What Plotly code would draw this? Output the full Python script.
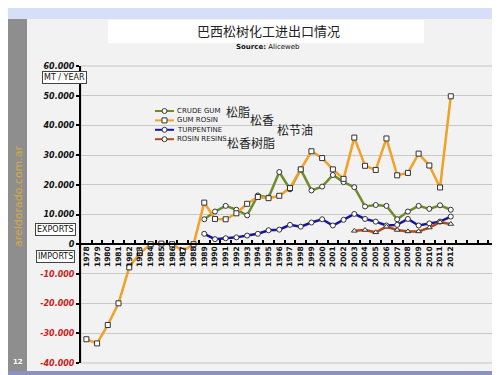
import plotly.graph_objects as go

years = list(range(1978, 2013))
axis_years = list(range(1978, 2017))
gum_rosin = [-32000, -33400, -27200, -19900, -7800, -3000, 0, 200, 0, -2200, 0,
             14000, 8500, 8400, 10400, 13600, 15900, 15500, 16300, 18900, 25200,
             31300, 29000, 25200, 22000, 35900, 26400, 25000, 35600, 23200, 24000,
             30500, 26500, 19100, 49800]
crude_gum = [None] * 11 + [8400, 11000, 12900, 11600, 9700, 16400, 15700, 24300,
                           18500, 25200, 18100, 19400, 23300, 20900, 19200, 12700,
                           13200, 12900, 8400, 11000, 12900, 11900, 13100, 11600]
turpentine = [None] * 11 + [3500, 1700, 2000, 2300, 2900, 3500, 4700, 4900, 6500,
                            5900, 7300, 8400, 6300, 8200, 10200, 8500, 7600, 6300,
                            6500, 8500, 6300, 7000, 7600, 9300]
rosin_resins = [None] * 25 + [4500, 4800, 4000, 5900, 4800, 4300, 4300, 5600, 7400, 6800]

y_ticks = [60000, 50000, 40000, 30000, 20000, 10000, 0, -10000, -20000, -30000, -40000]
y_labels = ["60.000", "50.000", "40.000", "30.000", "20.000", "10.000", "0",
            "-10.000", "-20.000", "-30.000", "-40.000"]

series_names = ["CRUDE GUM", "GUM ROSIN", "TURPENTINE", "ROSIN RESINS"]
chinese_names = ["松脂", "松香", "松节油", "松香树脂"]
colors = {"CRUDE GUM": "#6f8c2c", "GUM ROSIN": "#f2a027",
          "TURPENTINE": "#1414a8", "ROSIN RESINS": "#b24a1a"}
symbols = {"CRUDE GUM": "circle", "GUM ROSIN": "square",
           "TURPENTINE": "circle", "ROSIN RESINS": "triangle-up"}
data = {"CRUDE GUM": crude_gum, "GUM ROSIN": gum_rosin,
        "TURPENTINE": turpentine, "ROSIN RESINS": rosin_resins}

W, H = 500, 375
L, R, T, B = 73, 9, 58, 20
PW, PH = W - L - R, H - T - B


def px(x):
    return (x - L) / PW


def py(y):
    return (H - B - y) / PH


fig = go.Figure()
for name in ["CRUDE GUM", "TURPENTINE", "ROSIN RESINS", "GUM ROSIN"]:
    fig.add_trace(go.Scatter(
        x=years, y=data[name], mode="lines+markers", name=name,
        line=dict(color=colors[name], width=2.5),
        marker=dict(symbol=symbols[name], size=5, color="white",
                    line=dict(color="#333333", width=1)),
        connectgaps=False, showlegend=False))

shapes = []
# background bands
shapes.append(dict(type="rect", xref="paper", yref="paper", x0=px(0), x1=px(500),
                   y0=py(11), y1=py(0), fillcolor="#d6def8", line_width=0, layer="below"))
shapes.append(dict(type="rect", xref="paper", yref="paper", x0=px(0), x1=px(19),
                   y0=py(363), y1=py(11), fillcolor="#8e8e8e", line_width=0, layer="below"))
shapes.append(dict(type="rect", xref="paper", yref="paper", x0=px(0), x1=px(500),
                   y0=py(375), y1=py(363), fillcolor="#8a92c2", line_width=0, layer="below"))
shapes.append(dict(type="rect", xref="paper", yref="paper", x0=px(100), x1=px(416),
                   y0=py(35), y1=py(12), fillcolor="white", line_width=0, layer="below"))
# plot border
shapes.append(dict(type="rect", xref="paper", yref="paper", x0=0, x1=1, y0=0, y1=1,
                   line=dict(color="#c4c4c4", width=1), layer="below"))

annotations = []
# manual legend
for i, name in enumerate(series_names):
    yc = 103 + 9.4 * i
    shapes.append(dict(type="line", xref="paper", yref="paper", x0=px(147), x1=px(166),
                       y0=py(yc), y1=py(yc), line=dict(color=colors[name], width=2)))
    if symbols[name] == "square":
        shapes.append(dict(type="rect", xref="paper", yref="paper", x0=px(154), x1=px(159),
                           y0=py(yc + 2.5), y1=py(yc - 2.5), fillcolor="white",
                           line=dict(color="#333333", width=1)))
    else:
        shapes.append(dict(type="circle", xref="paper", yref="paper", x0=px(154), x1=px(159),
                           y0=py(yc + 2.5), y1=py(yc - 2.5), fillcolor="white",
                           line=dict(color="#333333", width=1)))
    annotations.append(dict(xref="paper", yref="paper", x=px(167), y=py(yc),
                            xanchor="left", yanchor="middle", showarrow=False,
                            text=name, font=dict(family="DejaVu Sans", size=7, color="#222222")))

cn_pos = [(230, 103), (254, 112), (287, 121), (243, 134)]
for txt, (cx, cy) in zip(chinese_names, cn_pos):
    annotations.append(dict(xref="paper", yref="paper", x=px(cx), y=py(cy),
                            xanchor="center", yanchor="middle", showarrow=False,
                            text=txt, font=dict(family="Noto Sans CJK SC", size=12, color="#222222")))

annotations += [
    dict(xref="paper", yref="paper", x=px(260), y=py(23), showarrow=False,
         xanchor="center", yanchor="middle", text="巴西松树化工进出口情况",
         font=dict(family="Noto Sans CJK SC", size=13, color="#222222")),
    dict(xref="paper", yref="paper", x=px(260), y=py(39), showarrow=False,
         xanchor="center", yanchor="middle", text="<b>Source:</b> Aliceweb",
         font=dict(family="DejaVu Sans", size=7, color="#111111")),
    dict(xref="paper", yref="paper", x=px(56), y=py(69), showarrow=False,
         xanchor="center", yanchor="middle", text="MT / YEAR",
         font=dict(family="DejaVu Sans", size=8, color="#111111"),
         bgcolor="white", bordercolor="#444444", borderwidth=1, borderpad=1),
    dict(xref="paper", yref="paper", x=px(47), y=py(221), showarrow=False,
         xanchor="center", yanchor="middle", text="EXPORTS",
         font=dict(family="DejaVu Sans", size=8, color="#111111"),
         bgcolor="white", bordercolor="#444444", borderwidth=1, borderpad=1),
    dict(xref="paper", yref="paper", x=px(47), y=py(248), showarrow=False,
         xanchor="center", yanchor="middle", text="IMPORTS",
         font=dict(family="DejaVu Sans", size=8, color="#111111"),
         bgcolor="white", bordercolor="#444444", borderwidth=1, borderpad=1),
    dict(xref="paper", yref="paper", x=px(10), y=py(188), showarrow=False,
         xanchor="center", yanchor="middle", text="areldorado.com.ar", textangle=-90,
         font=dict(family="DejaVu Sans", size=11, color="#d6aa40")),
    dict(xref="paper", yref="paper", x=px(10), y=py(354), showarrow=False,
         xanchor="center", yanchor="middle", text="<b>12</b>",
         font=dict(family="DejaVu Sans", size=7, color="white")),
]

y_text = [lab if v >= 0 else '<span style="color:#cc2222">' + lab + '</span>'
          for v, lab in zip(y_ticks, y_labels)]
x_text = [str(y) if y <= 2012 else "" for y in axis_years]

fig.update_layout(
    width=W, height=H, margin=dict(l=L, r=R, t=T, b=B, pad=0),
    paper_bgcolor="#f2f2f2", plot_bgcolor="#f2f2f2",
    shapes=shapes, annotations=annotations, showlegend=False,
    xaxis=dict(range=[1977.5, 2016.5], anchor="free", position=0.4,
               tickmode="array", tickvals=axis_years, ticktext=x_text,
               tickangle=-90, ticks="", showgrid=False, zeroline=False,
               ticklabelstandoff=-2,
               showline=True, linecolor="black", linewidth=2,
               tickfont=dict(family="DejaVu Sans", size=7.5, weight="bold", color="#111111"),
               minor=dict(tickmode="array", tickvals=[y + 0.5 for y in axis_years[:-1]],
                          ticks="inside", ticklen=3, tickwidth=2, tickcolor="black",
                          showgrid=False)),
    yaxis=dict(range=[-40000, 60000], tickmode="array", tickvals=y_ticks, ticktext=y_text,
               showgrid=True, gridcolor="#c8c8c8", gridwidth=1, zeroline=False,
               showline=True, linecolor="black", linewidth=2,
               ticks="outside", ticklen=3, tickwidth=2, tickcolor="black",
               tickfont=dict(family="DejaVu Sans", size=8, weight="bold",
                             style="italic", color="#111111")),
)

fig.write_html("out.html")
